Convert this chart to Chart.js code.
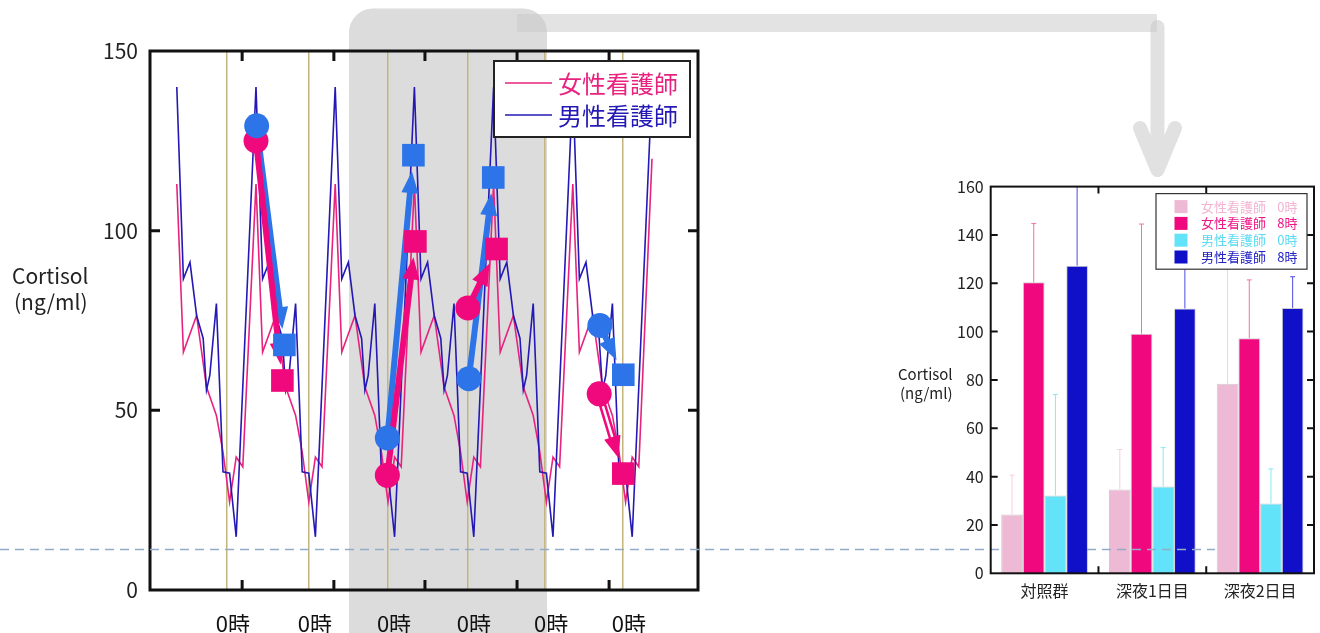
<!DOCTYPE html>
<html lang="ja">
<head>
<meta charset="utf-8">
<title>看護師のコルチゾール</title>
<script src="https://cdn.jsdelivr.net/npm/chart.js@4.4.1/dist/chart.umd.min.js"></script>
<style>
  html, body { margin: 0; padding: 0; background: #fff; }
  body { width: 1320px; height: 633px; position: relative; overflow: hidden; }
  #dayChart { position: absolute; left: 0; top: 0; }
  #barChart { position: absolute; left: 880px; top: 170px; }
</style>
</head>
<body>
<canvas id="dayChart" width="1320" height="633"></canvas>
<canvas id="barChart" width="440" height="463"></canvas>
<script>
// ---- 日内変動（時刻は時間、8時がピーク） ----
const femaleHours = [
  -16, -14, -10, -7, -4, -2, 0, 2, 4,
  8, 10, 14, 17, 20, 22, 24, 26, 28,
  32, 34, 38, 41, 44, 46, 48, 50, 52,
  56, 58, 62, 65, 68, 70, 72, 74, 76,
  80, 82, 86, 89, 92, 94, 96, 98, 100,
  104, 106, 110, 113, 116, 118, 120, 122, 124,
  128
];
const femaleCortisol = [
  113, 66.2, 76.4, 56.5, 48.6, 38.4, 24.5, 37, 34.3,
  113, 66.2, 76.4, 56.5, 48.6, 38.4, 24.5, 37, 34.3,
  113, 66.2, 76.4, 56.5, 48.6, 38.4, 24.5, 37, 34.3,
  113, 66.2, 76.4, 56.5, 48.6, 38.4, 24.5, 37, 34.3,
  113, 66.2, 76.4, 56.5, 48.6, 38.4, 24.5, 37, 34.3,
  113, 66.2, 76.4, 56.5, 48.6, 38.4, 24.5, 37, 34.3,
  120
];
const maleHours = [
  -16, -14, -12, -10, -8, -7, -6, -4, -2, 0, 2,
  8, 10, 12, 14, 16, 17, 18, 20, 22, 24, 26,
  32, 34, 36, 38, 40, 41, 42, 44, 46, 48, 50,
  56, 58, 60, 62, 64, 65, 66, 68, 70, 72, 74,
  80, 82, 84, 86, 88, 89, 90, 92, 94, 96, 98,
  104, 106, 108, 110, 112, 113, 114, 116, 118, 120, 122,
  128
];
const maleCortisol = [
  140, 86.6, 91.2, 76.4, 70, 55.6, 59.7, 79.7, 32.9, 32.5, 14.8,
  140, 86.6, 91.2, 76.4, 70, 55.6, 59.7, 79.7, 32.9, 32.5, 14.8,
  140, 86.6, 91.2, 76.4, 70, 55.6, 59.7, 79.7, 32.9, 32.5, 14.8,
  140, 86.6, 91.2, 76.4, 70, 55.6, 59.7, 79.7, 32.9, 32.5, 14.8,
  140, 86.6, 91.2, 76.4, 70, 55.6, 59.7, 79.7, 32.9, 32.5, 14.8,
  140, 86.6, 91.2, 76.4, 70, 55.6, 59.7, 79.7, 32.9, 32.5, 14.8,
  140
];

// 0時の縦線と上下の目盛り
const midnightHours = [-0.8, 24, 48, 72.2, 95.6, 119.2];
const frameTickHours = [3.8, 31.6, 59.2, 87.1, 115];
const cortisolTicks = [50, 100];

// 矢印（● 始点 → ■ 終点）
const femaleFromHours = [8, 47.8, 72.2, 112];
const femaleFromValues = [125, 31.9, 78.5, 54.6];
const femaleToHours = [16, 56.3, 80.9, 119.3];
const femaleToValues = [58.3, 97, 94.9, 32.4];
const maleFromHours = [8.2, 47.8, 72.5, 112.2];
const maleFromValues = [129.2, 42.3, 58.8, 73.6];
const maleToHours = [16.6, 55.7, 79.9, 119.3];
const maleToValues = [68.2, 121, 114.8, 59.9];

// ---- 勤務別の平均値 ----
const groupLabels = ['対照群', '深夜1日目', '深夜2日目'];
const female0h = [24.3, 34.7, 78.4];
const female0hTop = [40.6, 51.2, 135];
const female8h = [120.4, 99.1, 97.3];
const female8hTop = [144.7, 144.5, 121.4];
const male0h = [32.2, 35.9, 28.9];
const male0hTop = [74, 52, 43.2];
const male8h = [127.3, 109.6, 109.8];
const male8hTop = [168, 135, 122.7];

const FONT = '"Noto Sans CJK JP", "Noto Sans", sans-serif';
Chart.defaults.font.family = FONT;

const PINK = '#E8237F';
const NAVY = '#2419B4';
const PINK_MARK = '#EF097C';
const BLUE_MARK = '#2D74E8';
const DASH = '#94ABC8';

const toPoints = (xs, ys) => xs.map((x, i) => ({ x: x, y: ys[i] }));

// 背景の灰色の枠と右への矢印
const backdropPlugin = {
  id: 'backdrop',
  beforeDraw(chart) {
    const ctx = chart.ctx;
    ctx.save();
    ctx.fillStyle = '#DCDCDC';
    ctx.beginPath();
    ctx.roundRect(349, 8.5, 198, 680, 24);
    ctx.fill();

    ctx.fillStyle = 'rgba(200,200,200,0.5)';
    ctx.fillRect(517, 14, 640, 18);
    ctx.strokeStyle = 'rgba(200,200,200,0.55)';
    ctx.lineWidth = 14;
    ctx.lineCap = 'round';
    ctx.lineJoin = 'round';
    ctx.beginPath();
    ctx.moveTo(1157.5, 27);
    ctx.lineTo(1157.5, 168);
    ctx.moveTo(1140, 128);
    ctx.lineTo(1157.5, 170);
    ctx.lineTo(1175, 128);
    ctx.stroke();
    ctx.restore();
  }
};

function drawArrow(ctx, x0, y0, x1, y1, color, hollow) {
  const len = Math.hypot(x1 - x0, y1 - y0);
  const ux = (x1 - x0) / len, uy = (y1 - y0) / len;
  const tip = len - 16, head = 22, half = 8.5;
  const tx = x0 + ux * tip, ty = y0 + uy * tip;
  const bx = x0 + ux * (tip - head), by = y0 + uy * (tip - head);
  ctx.save();
  ctx.strokeStyle = color;
  ctx.lineWidth = hollow ? 7.5 : 6;
  ctx.beginPath();
  ctx.moveTo(x0, y0);
  ctx.lineTo(bx + ux * 2, by + uy * 2);
  ctx.stroke();
  if (hollow) {
    ctx.strokeStyle = '#fff';
    ctx.lineWidth = 2.5;
    ctx.beginPath();
    ctx.moveTo(x0 + ux * 13, y0 + uy * 13);
    ctx.lineTo(bx, by);
    ctx.stroke();
  }
  ctx.fillStyle = color;
  ctx.beginPath();
  ctx.moveTo(tx, ty);
  ctx.lineTo(bx - uy * half, by + ux * half);
  ctx.lineTo(bx + uy * half, by - ux * half);
  ctx.closePath();
  ctx.fill();
  ctx.restore();
}

// 線の上、マーカーの下に矢印を描く
const arrowPlugin = {
  id: 'arrows',
  afterDatasetDraw(chart, args) {
    if (args.index !== 4) return;
    const { ctx, scales: { x, y } } = chart;
    maleFromHours.forEach((h, i) => {
      drawArrow(ctx, x.getPixelForValue(h), y.getPixelForValue(maleFromValues[i]),
        x.getPixelForValue(maleToHours[i]), y.getPixelForValue(maleToValues[i]), BLUE_MARK, false);
    });
    femaleFromHours.forEach((h, i) => {
      drawArrow(ctx, x.getPixelForValue(h), y.getPixelForValue(femaleFromValues[i]),
        x.getPixelForValue(femaleToHours[i]), y.getPixelForValue(femaleToValues[i]), PINK_MARK, i === 3);
    });
  }
};

// 枠線と内向きの目盛り
const dayFramePlugin = {
  id: 'dayFrame',
  afterDatasetsDraw(chart) {
    const { ctx, chartArea: a, scales: { x, y } } = chart;
    ctx.save();
    ctx.strokeStyle = '#111';
    ctx.lineWidth = 3;
    ctx.strokeRect(a.left, a.top, a.right - a.left, a.bottom - a.top);
    ctx.beginPath();
    cortisolTicks.forEach(v => {
      const py = y.getPixelForValue(v);
      ctx.moveTo(a.left, py); ctx.lineTo(a.left + 10, py);
      ctx.moveTo(a.right, py); ctx.lineTo(a.right - 10, py);
    });
    frameTickHours.forEach(h => {
      const px = x.getPixelForValue(h);
      ctx.moveTo(px, a.top); ctx.lineTo(px, a.top + 10);
      ctx.moveTo(px, a.bottom); ctx.lineTo(px, a.bottom - 10);
    });
    ctx.stroke();
    ctx.restore();
  }
};

const dayLegendPlugin = {
  id: 'dayLegend',
  afterDraw(chart) {
    const ctx = chart.ctx;
    ctx.save();
    ctx.fillStyle = '#fff';
    ctx.fillRect(494, 61, 196, 76);
    ctx.strokeStyle = '#222';
    ctx.lineWidth = 2;
    ctx.strokeRect(494, 61, 196, 76);
    ctx.font = '24px ' + FONT;
    ctx.textBaseline = 'middle';
    [5, 4].forEach((di, row) => {
      const ds = chart.data.datasets[di];
      const yy = 83 + row * 32;
      ctx.strokeStyle = ds.borderColor;
      ctx.lineWidth = 1.5;
      ctx.beginPath();
      ctx.moveTo(505, yy); ctx.lineTo(552, yy);
      ctx.stroke();
      ctx.fillStyle = ds.borderColor;
      ctx.fillText(ds.label, 558, yy + 1);
    });

    // 縦軸の見出し
    ctx.fillStyle = '#222';
    ctx.font = '21px ' + FONT;
    ctx.fillText('Cortisol', 12, 276);
    ctx.fillText('(ng/ml)', 14, 302);

    // 横の破線
    ctx.strokeStyle = DASH;
    ctx.lineWidth = 1.5;
    ctx.setLineDash([9, 6]);
    ctx.beginPath();
    ctx.moveTo(0, 549.5); ctx.lineTo(1002, 549.5);
    ctx.stroke();
    ctx.restore();
  }
};

new Chart(document.getElementById('dayChart'), {
  type: 'scatter',
  data: {
    datasets: [
      { data: toPoints(femaleFromHours, femaleFromValues), pointStyle: 'circle', pointRadius: 12.5,
        pointBackgroundColor: PINK_MARK, pointBorderWidth: 0, order: 1 },
      { data: toPoints(femaleToHours, femaleToValues), pointStyle: 'rect', pointRadius: 16,
        pointBackgroundColor: PINK_MARK, pointBorderWidth: 0, order: 1 },
      { data: toPoints(maleFromHours, maleFromValues), pointStyle: 'circle', pointRadius: 12.5,
        pointBackgroundColor: BLUE_MARK, pointBorderWidth: 0, order: 0 },
      { data: toPoints(maleToHours, maleToValues), pointStyle: 'rect', pointRadius: 16,
        pointBackgroundColor: BLUE_MARK, pointBorderWidth: 0, order: 0 },
      { label: '男性看護師', data: toPoints(maleHours, maleCortisol), showLine: true,
        borderColor: NAVY, borderWidth: 1.6, pointRadius: 0, order: 3 },
      { label: '女性看護師', data: toPoints(femaleHours, femaleCortisol), showLine: true,
        borderColor: PINK, borderWidth: 1.6, pointRadius: 0, order: 4 }
    ]
  },
  options: {
    responsive: false,
    animation: false,
    layout: { padding: { top: 51, right: 622, left: 0, bottom: 0 } },
    scales: {
      x: {
        type: 'linear',
        min: -24.12,
        max: 141.94,
        afterBuildTicks: s => { s.ticks = midnightHours.map(v => ({ value: v })); },
        afterFit: s => { s.height = 43; },
        ticks: {
          callback: () => '0時',
          autoSkip: false,
          maxRotation: 0,
          labelOffset: 6,
          padding: 20,
          color: '#111',
          font: { size: 22 }
        },
        grid: { display: true, color: '#C4B47E', lineWidth: 1.5, drawTicks: false },
        border: { display: false }
      },
      y: {
        min: 0,
        max: 150,
        afterFit: s => { s.width = 150; },
        ticks: { stepSize: 50, padding: 12, color: '#222', font: { size: 21 } },
        grid: { display: false, drawTicks: false },
        border: { display: false }
      }
    },
    plugins: { legend: { display: false }, tooltip: { enabled: false } }
  },
  plugins: [backdropPlugin, arrowPlugin, dayFramePlugin, dayLegendPlugin]
});

// ---- 棒グラフ ----
const errorBarPlugin = {
  id: 'errorBars',
  afterDatasetsDraw(chart) {
    const { ctx, chartArea: a, scales: { y } } = chart;
    ctx.save();
    ctx.beginPath();
    ctx.rect(a.left, a.top, a.right - a.left, a.bottom - a.top);
    ctx.clip();
    chart.data.datasets.forEach((ds, i) => {
      ctx.strokeStyle = ds.errorColor;
      ctx.lineWidth = 1;
      chart.getDatasetMeta(i).data.forEach((bar, j) => {
        const top = y.getPixelForValue(ds.errorTop[j]);
        ctx.beginPath();
        ctx.moveTo(bar.x, bar.y);
        ctx.lineTo(bar.x, top);
        ctx.moveTo(bar.x - 2.5, top);
        ctx.lineTo(bar.x + 2.5, top);
        ctx.stroke();
      });
    });
    ctx.restore();
  }
};

const barFramePlugin = {
  id: 'barFrame',
  afterDraw(chart) {
    const { ctx, chartArea: a, scales: { x, y } } = chart;
    ctx.save();
    ctx.strokeStyle = '#111';
    ctx.lineWidth = 2;
    ctx.strokeRect(a.left, a.top, a.right - a.left, a.bottom - a.top);
    ctx.beginPath();
    for (let v = 20; v < 160; v += 20) {
      const py = y.getPixelForValue(v);
      ctx.moveTo(a.left, py); ctx.lineTo(a.left + 7, py);
      ctx.moveTo(a.right, py); ctx.lineTo(a.right - 7, py);
    }
    for (let i = 0; i < groupLabels.length - 1; i++) {
      const px = (x.getPixelForValue(i) + x.getPixelForValue(i + 1)) / 2;
      ctx.moveTo(px, a.top); ctx.lineTo(px, a.top + 7);
      ctx.moveTo(px, a.bottom); ctx.lineTo(px, a.bottom - 7);
    }
    ctx.stroke();

    ctx.fillStyle = '#222';
    ctx.font = '15px ' + FONT;
    ctx.textBaseline = 'middle';
    ctx.fillText('Cortisol', 18, 204);
    ctx.fillText('(ng/ml)', 20, 223);
    ctx.restore();
  }
};

const barLegendPlugin = {
  id: 'barLegend',
  afterDraw(chart) {
    const { ctx, chartArea: a } = chart;
    const left = a.right - 158, top = a.top + 7, w = 151, h = 75.6;
    ctx.save();
    ctx.fillStyle = '#fff';
    ctx.fillRect(left, top, w, h);
    ctx.strokeStyle = '#333';
    ctx.lineWidth = 1.2;
    ctx.strokeRect(left, top, w, h);
    ctx.font = '13px ' + FONT;
    ctx.textBaseline = 'middle';
    chart.data.datasets.forEach((ds, i) => {
      const cy = top + 13 + i * 16.8;
      const parts = ds.label.split(' ');
      ctx.fillStyle = ds.backgroundColor;
      ctx.fillRect(left + 18.5, cy - 6.5, 13, 13);
      ctx.fillStyle = ds.legendText;
      ctx.textAlign = 'left';
      ctx.fillText(parts[0], left + 45, cy);
      ctx.textAlign = 'right';
      ctx.fillText(parts[1], left + w - 9.5, cy);
    });

    ctx.strokeStyle = DASH;
    ctx.lineWidth = 1.5;
    ctx.setLineDash([9, 6]);
    ctx.beginPath();
    ctx.moveTo(207, 379.5); ctx.lineTo(335, 379.5);
    ctx.stroke();
    ctx.restore();
  }
};

const barStyle = { borderColor: 'rgba(110,110,110,0.35)', borderWidth: 1, borderSkipped: 'bottom' };

new Chart(document.getElementById('barChart'), {
  type: 'bar',
  data: {
    labels: groupLabels,
    datasets: [
      Object.assign({ label: '女性看護師 0時', data: female0h, errorTop: female0hTop,
        backgroundColor: '#EDB9D5', errorColor: '#F6CFE0', legendText: '#F2B4D2' }, barStyle),
      Object.assign({ label: '女性看護師 8時', data: female8h, errorTop: female8hTop,
        backgroundColor: '#F0087F', errorColor: '#F56FA9', legendText: '#EE1585' }, barStyle),
      Object.assign({ label: '男性看護師 0時', data: male0h, errorTop: male0hTop,
        backgroundColor: '#62E3F9', errorColor: '#86E8F8', legendText: '#5CDAF3' }, barStyle),
      Object.assign({ label: '男性看護師 8時', data: male8h, errorTop: male8hTop,
        backgroundColor: '#1010C9', errorColor: '#4B4BE4', legendText: '#2222C4' }, barStyle)
    ]
  },
  options: {
    responsive: false,
    animation: false,
    layout: { padding: { top: 15.7, right: 6, left: 0, bottom: 0 } },
    datasets: { bar: { categoryPercentage: 0.805, barPercentage: 1 } },
    scales: {
      x: {
        afterFit: s => { s.height = 59.7; },
        ticks: { padding: 8, color: '#222', font: { size: 16 } },
        grid: { display: false, drawTicks: false },
        border: { display: false }
      },
      y: {
        min: 0,
        max: 160,
        afterFit: s => { s.width = 110.7; },
        ticks: { stepSize: 20, padding: 7, color: '#222', font: { size: 16 } },
        grid: { display: false, drawTicks: false },
        border: { display: false }
      }
    },
    plugins: { legend: { display: false }, tooltip: { enabled: false } }
  },
  plugins: [errorBarPlugin, barFramePlugin, barLegendPlugin]
});
</script>
</body>
</html>
